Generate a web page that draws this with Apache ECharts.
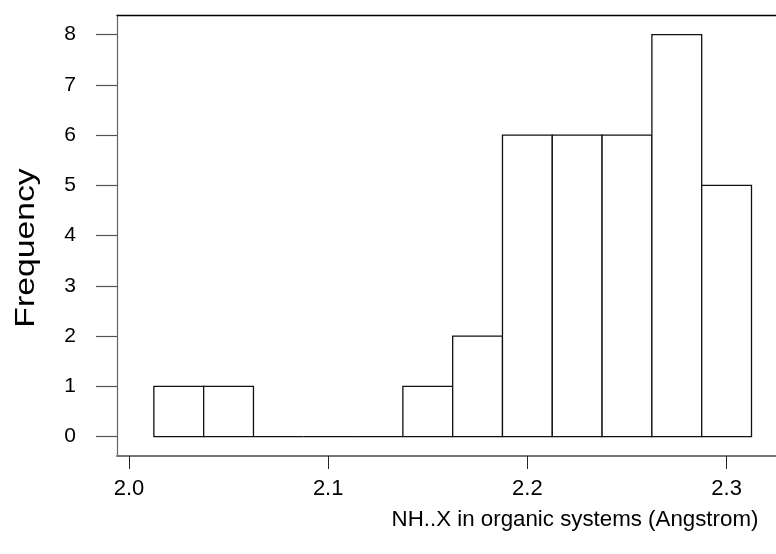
<!DOCTYPE html>
<html>
<head>
<meta charset="utf-8">
<script src="https://cdn.jsdelivr.net/npm/echarts@6/dist/echarts.min.js"></script>
<style>
html,body{margin:0;padding:0;background:#fff;}
#chart{width:776px;height:554px;}
</style>
</head>
<body>
<div id="chart"></div>
<script>
// Histogram data
const binStarts = [2.0125, 2.0375, 2.0625, 2.0875, 2.1125, 2.1375, 2.1625, 2.1875, 2.2125, 2.2375, 2.2625, 2.2875];
const binWidth = 0.025;
const counts = [1, 1, 0, 0, 0, 1, 2, 6, 6, 6, 8, 5];
const xTicks = [2.0, 2.1, 2.2, 2.3];
const yTicks = [0, 1, 2, 3, 4, 5, 6, 7, 8];
const xTitle = 'NH..X in organic systems (Angstrom)';
const yTitle = 'Frequency';

const data = binStarts.map((s, i) => [s, s + binWidth, counts[i]]);

const chart = echarts.init(document.getElementById('chart'), null, {renderer: 'canvas'});
const FONT = 'Liberation Sans, Arial, sans-serif';
const X_MIN = 1.994, X_MAX = 2.3248;

chart.setOption({
  animation: false,
  backgroundColor: '#fff',
  grid: {left: 117, top: 15, right: 0, bottom: 98, show: false},
  xAxis: [{
    type: 'value', min: X_MIN, max: X_MAX,
    axisLine: {show: true, onZero: false, lineStyle: {color: '#777', width: 2}},
    axisTick: {show: true, length: 13, customValues: xTicks, lineStyle: {color: '#222', width: 1}},
    axisLabel: {show: true, customValues: xTicks, margin: 22, fontSize: 22, fontFamily: FONT, color: '#000',
      formatter: v => Number(v).toFixed(1)},
    splitLine: {show: false}
  }, {
    type: 'value', position: 'top', min: X_MIN, max: X_MAX,
    axisLine: {show: true, onZero: false, lineStyle: {color: '#000', width: 1.3}},
    axisTick: {show: false}, axisLabel: {show: false}, splitLine: {show: false}
  }],
  yAxis: {
    type: 'value', min: -0.386, max: 8.392,
    axisLine: {show: true, onZero: false, lineStyle: {color: '#666', width: 1.2}},
    axisTick: {show: true, length: 21, customValues: yTicks, lineStyle: {color: '#555', width: 1.2}},
    axisLabel: {show: true, customValues: yTicks, margin: 41, fontSize: 21, fontFamily: FONT, color: '#000'},
    splitLine: {show: false}
  },
  graphic: [
    {type: 'text', x: 27, y: 248, rotation: Math.PI / 2, scaleX: 1.25, scaleY: 1,
     style: {text: yTitle, font: '27px ' + FONT, fill: '#000', textAlign: 'center', textVerticalAlign: 'middle'}},
    {type: 'text', x: 575, y: 520,
     style: {text: xTitle, font: '22.3px ' + FONT, fill: '#000', textAlign: 'center', textVerticalAlign: 'middle'}}
  ],
  series: [{
    type: 'custom',
    data: data,
    encode: {x: [0, 1], y: 2},
    renderItem: function (params, api) {
      const p0 = api.coord([api.value(0), 0]);
      const p1 = api.coord([api.value(1), api.value(2)]);
      if (api.value(2) === 0) {
        return {type: 'line', shape: {x1: p0[0], y1: p0[1], x2: p1[0], y2: p0[1]},
          style: {stroke: '#111', lineWidth: 1.3}};
      }
      return {
        type: 'rect',
        shape: {x: p0[0], y: p1[1], width: p1[0] - p0[0], height: p0[1] - p1[1]},
        style: {fill: '#fff', stroke: '#111', lineWidth: 1.3}
      };
    }
  }]
});
</script>
</body>
</html>
